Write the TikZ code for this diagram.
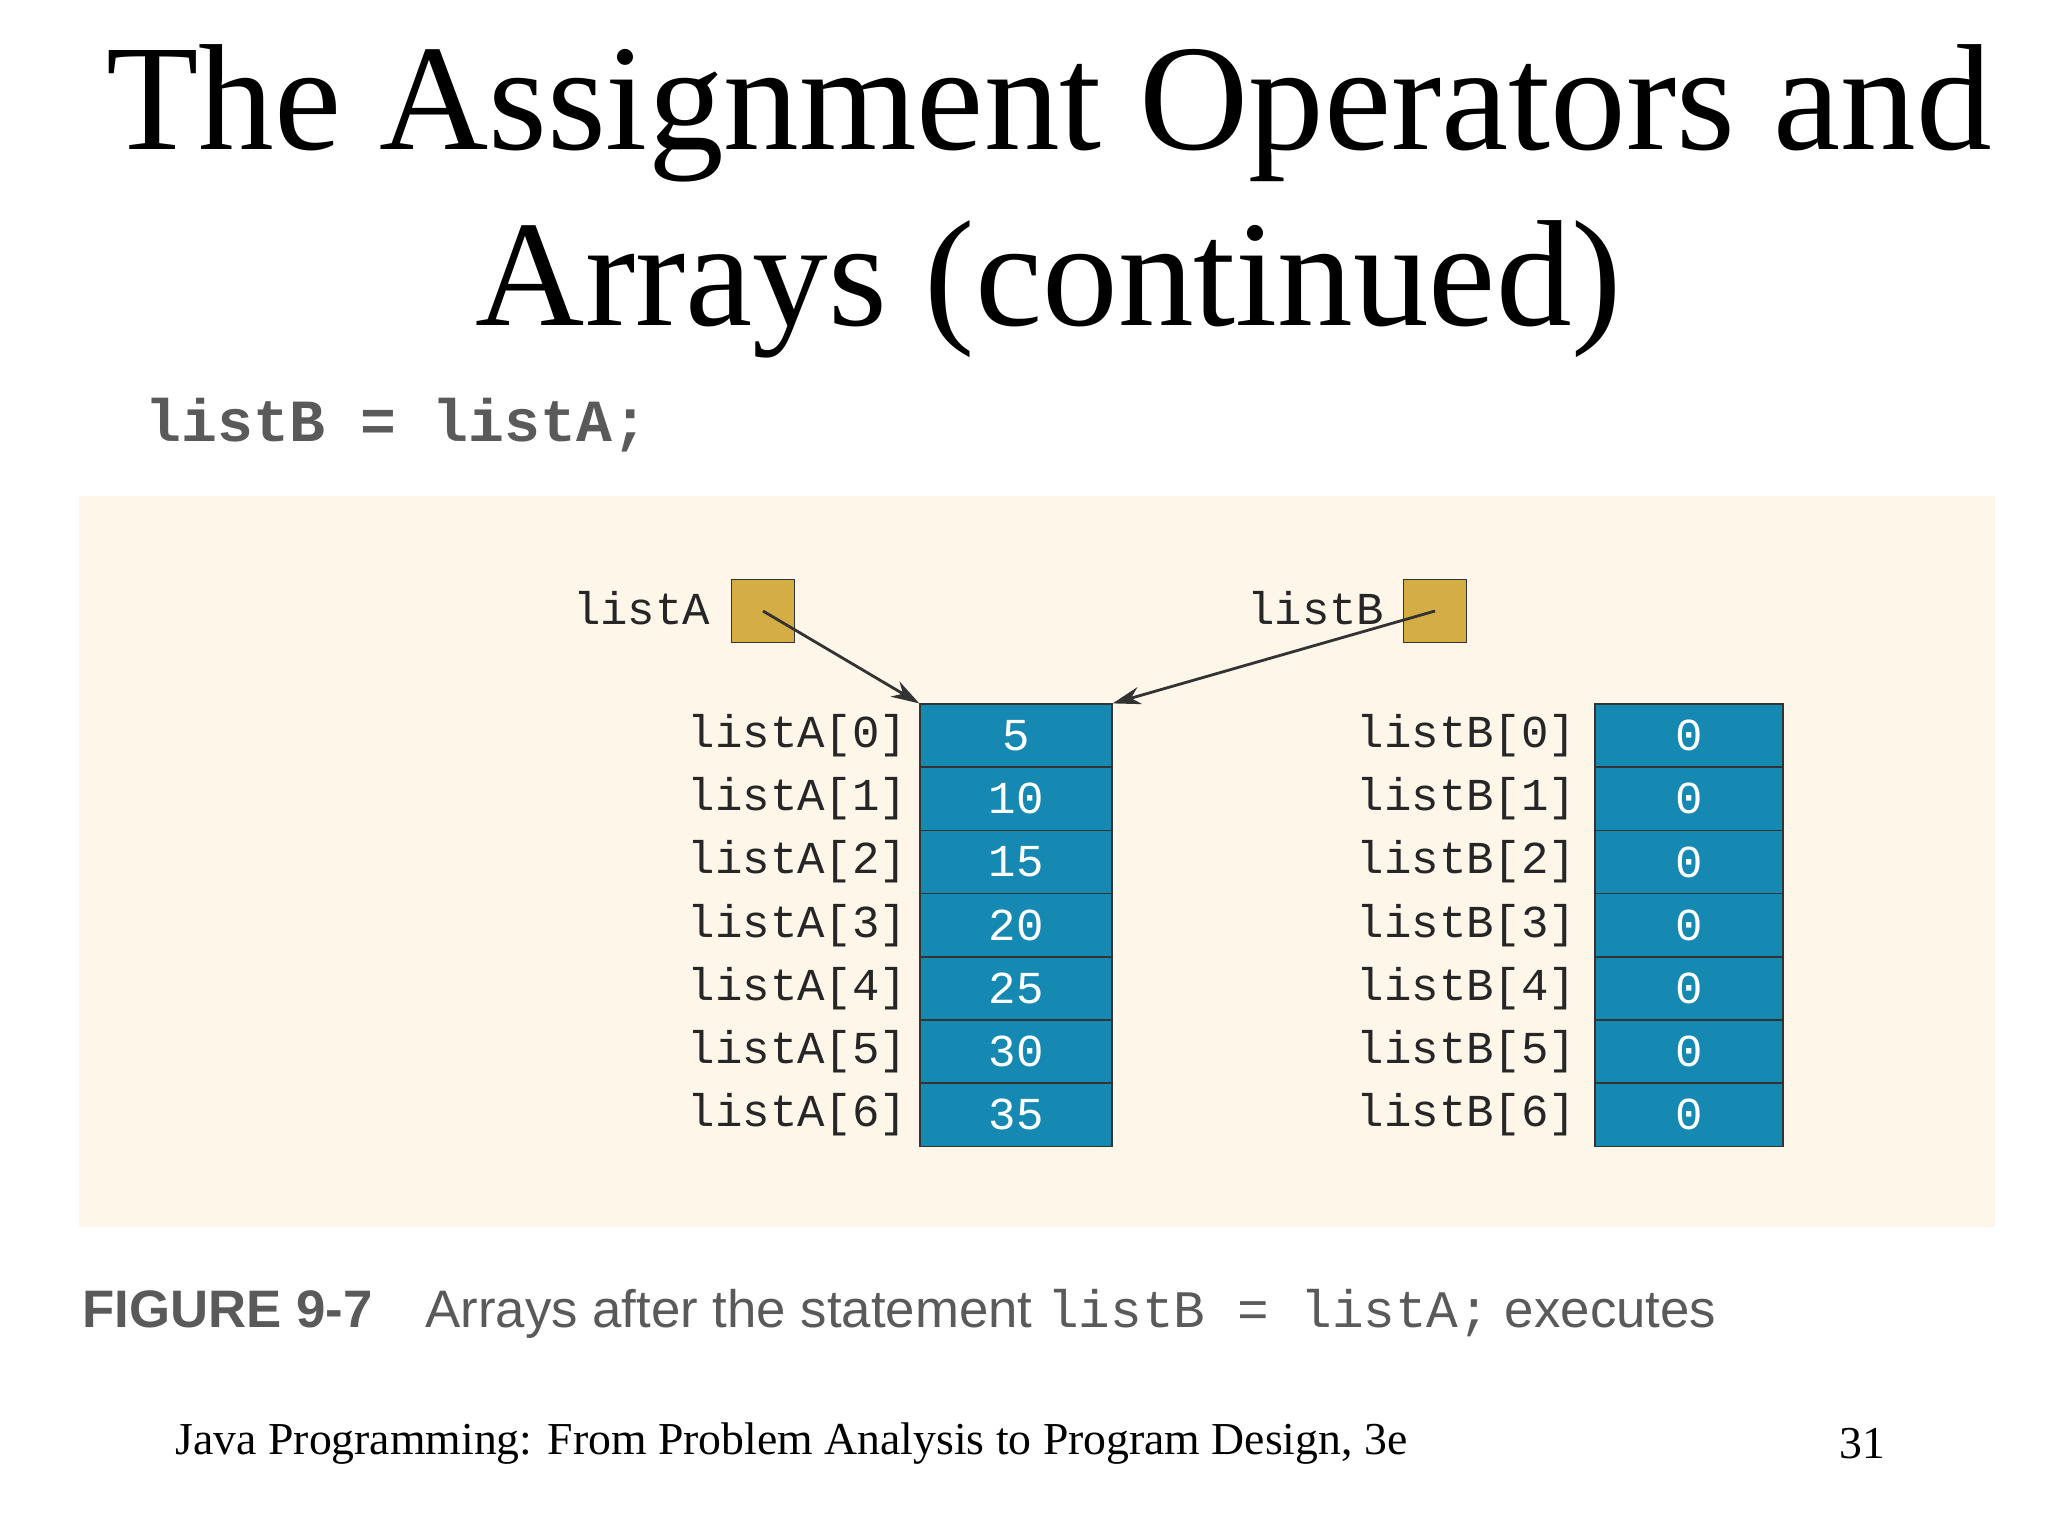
\documentclass[tikz,border=0pt]{standalone}
\usepackage{fontspec}
\usetikzlibrary{arrows.meta}
\setmainfont{Liberation Serif}
\setsansfont{Liberation Sans}
\setmonofont{Liberation Mono}
\definecolor{bg}{HTML}{FDF6E9}
\definecolor{ptr}{HTML}{D4AE45}
\definecolor{cell}{HTML}{1689B3}
\definecolor{gr}{HTML}{5A5A5A}
\begin{document}
\begin{tikzpicture}[x=0.01cm,y=-0.01cm,
  cellbox/.style={draw=black!80,fill=cell,minimum width=192*0.01cm,minimum height=63*0.01cm,inner sep=0,text=white,font=\ttfamily\fontsize{13}{13}\selectfont},
  idx/.style={anchor=east,inner sep=0,font=\ttfamily\fontsize{13}{13}\selectfont,text=black!85},
  ptrbox/.style={draw=black!80,fill=ptr,minimum size=63*0.01cm,inner sep=0},
  arr/.style={-{Stealth[length=8pt,width=5pt]},thick,black!80}]
\useasboundingbox (0,0) rectangle (2048,1536);
\node[font=\fontsize{43}{50}\selectfont,align=center] (title) at (1049,201) {The Assignment Operators and\\Arrays (continued)};
\node[anchor=west,inner sep=0,font=\ttfamily\bfseries\fontsize{17}{17}\selectfont,text=gr] (code) at (145,425) {listB = listA;};
\fill[bg] (79,496) rectangle (1995,1227);
\node[ptrbox] (pa) at (763,611) {};
\node[ptrbox] (pb) at (1435,611) {};
\node[idx] (la) at (711,608) {listA};
\node[idx] (lb) at (1385,608) {listB};
\foreach \i/\v in {0/5,1/10,2/15,3/20,4/25,5/30,6/35}{
  \node[cellbox] (a\i) at (1016,735.6+63.2*\i) {\v};
  \node[idx] (ia\i) at (908,735.6+63.2*\i) {listA[\i]};
  \node[cellbox,minimum width=188*0.01cm] (b\i) at (1689,735.6+63.2*\i) {0};
  \node[idx] (ib\i) at (1577,735.6+63.2*\i) {listB[\i]};
}
\draw[arr] (pa.center) -- (a0.north west);
\draw[arr] (pb.center) -- (a0.north east);
\node[anchor=west,inner sep=0,text=gr,font=\sffamily\fontsize{15}{15}\selectfont] (cap) at (82,1314) {\textbf{FIGURE 9-7}\quad Arrays after the statement {\ttfamily listB = listA;} executes};
\node[anchor=west,inner sep=0,font=\fontsize{13}{13}\selectfont] (foot) at (175,1444) {Java Programming: From Problem Analysis to Program Design, 3e};
\node[anchor=east,inner sep=0,font=\fontsize{13}{13}\selectfont] (num) at (1886,1444) {31};
\end{tikzpicture}
\end{document}
